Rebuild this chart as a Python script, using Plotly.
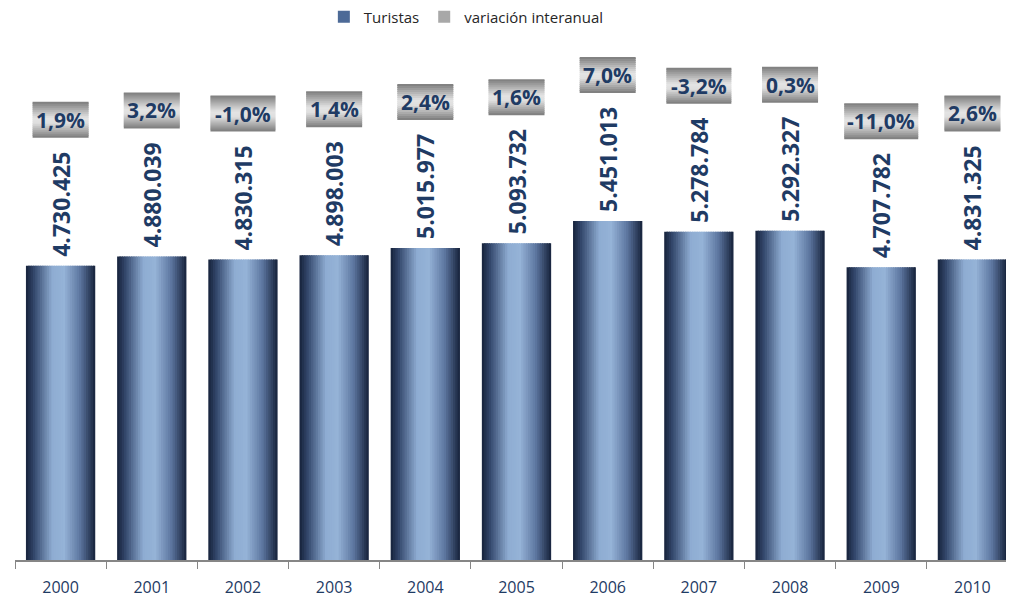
import plotly.graph_objects as go

years = ["2000", "2001", "2002", "2003", "2004", "2005", "2006", "2007", "2008", "2009", "2010"]
turistas = [4730425, 4880039, 4830315, 4898003, 5015977, 5093732, 5451013, 5278784, 5292327, 4707782, 4831325]
variacion = [1.9, 3.2, -1.0, 1.4, 2.4, 1.6, 7.0, -3.2, 0.3, -11.0, 2.6]

NAVY = "#1f3b64"
BAR_W = 0.76
N_STRIPES = 30
BOX_SHIFT = 146  # px above bar top
BOX_H = 36

BAR_STOPS = [(0.0, "#16223a"), (0.12, "#34486c"), (0.38, "#8eacd2"), (0.55, "#95b3d7"),
             (0.78, "#5d76a0"), (1.0, "#16223a")]
BOX_STOPS = [(0.0, "#7c7c7c"), (0.45, "#e4e4e4"), (0.6, "#dedede"), (1.0, "#7a7a7a")]


def _hex(c):
    c = c.lstrip("#")
    return [int(c[i:i + 2], 16) for i in (0, 2, 4)]


def _grad(stops, t):
    for (t0, c0), (t1, c1) in zip(stops, stops[1:]):
        if t <= t1:
            f = (t - t0) / (t1 - t0) if t1 > t0 else 0
            a, b = _hex(c0), _hex(c1)
            return "rgb(%d,%d,%d)" % tuple(round(a[k] + (b[k] - a[k]) * f) for k in range(3))
    return stops[-1][1]


def fmt_num(v):
    return f"{v:,}".replace(",", ".")


def fmt_pct(v):
    return f"{v:.1f}%".replace(".", ",")


fig = go.Figure()

# legend entries
fig.add_trace(go.Bar(x=years, y=[None] * len(years), name="Turistas",
                     marker=dict(color="#4d6a97", line=dict(width=0))))
fig.add_trace(go.Bar(x=years, y=[None] * len(years), name="variación interanual",
                     marker=dict(color="#a8a8a8", line=dict(width=0))))

# gradient bars as vertical stripes
step = BAR_W / N_STRIPES
for i in range(N_STRIPES):
    off = -BAR_W / 2 + i * step
    w = min(step * 1.6, BAR_W / 2 - off)
    fig.add_trace(go.Bar(
        x=years, y=turistas, offset=off, width=w,
        marker=dict(color=_grad(BAR_STOPS, (i + 0.5) / N_STRIPES), line=dict(width=0)),
        showlegend=False, hoverinfo="skip",
    ))

# labels
fig.add_trace(go.Bar(
    x=years, y=turistas, width=BAR_W,
    marker=dict(color="rgba(0,0,0,0)", line=dict(width=0)),
    text=[f"<b>\u00a0{fmt_num(v)}</b>" for v in turistas],
    textposition="outside", textangle=-90, constraintext="none", cliponaxis=False,
    textfont=dict(family="Open Sans", size=23, color=NAVY),
    showlegend=False,
))

shapes = []
annotations = []
for idx, (val, var) in enumerate(zip(turistas, variacion)):
    label = fmt_pct(var)
    bw = 20 + 9 * len(label)
    n = 18
    for k in range(n):
        y0 = BOX_SHIFT - BOX_H / 2 + k * BOX_H / n
        shapes.append(dict(
            type="rect", xref="x", yref="y", xsizemode="pixel", ysizemode="pixel",
            xanchor=idx, yanchor=val, x0=-bw / 2, x1=bw / 2,
            y0=y0, y1=min(y0 + BOX_H / n + 1, BOX_SHIFT + BOX_H / 2),
            fillcolor=_grad(BOX_STOPS, 1 - (k + 0.5) / n), line=dict(width=0),
        ))
    annotations.append(dict(
        x=idx, y=val, xref="x", yref="y", yshift=BOX_SHIFT, showarrow=False,
        text=f"<b>{label}</b>", font=dict(family="Open Sans", size=21, color=NAVY),
    ))

fig.update_layout(
    barmode="overlay",
    width=1014, height=599,
    margin=dict(l=7, r=4, t=32, b=47, autoexpand=False),
    paper_bgcolor="white", plot_bgcolor="white",
    font=dict(family="Open Sans", color="#262626"),
    shapes=shapes, annotations=annotations,
    legend=dict(orientation="h", x=0.45, xanchor="center", y=1.044, yanchor="middle",
                font=dict(size=15, color="#262626"), traceorder="normal"),
    xaxis=dict(type="category", range=[-0.5, len(years) - 0.5], automargin=False,
               showline=True, linecolor="#868686", linewidth=1.5,
               ticks="outside", tickson="boundaries", ticklen=7, tickcolor="#868686",
               ticklabelstandoff=12,
               tickfont=dict(size=16, color=NAVY), showgrid=False),
    yaxis=dict(range=[0, 8.36e6], visible=False, showgrid=False, automargin=False),
)

fig.write_html("out.html")
